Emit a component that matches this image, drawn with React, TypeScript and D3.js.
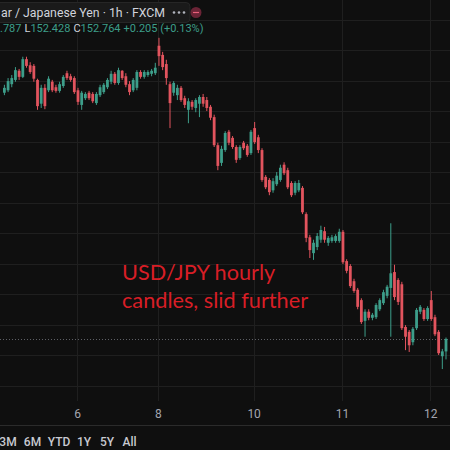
import React from 'react';
import * as d3 from 'd3';

const W = 450;
const H = 450;

// Hourly USD/JPY candles (FXCM)
const opens = [
  156.80, 156.84, 156.94, 157.01, 157.16, 157.06, 157.35, 157.25, 157.24, 157.01,
  156.62, 156.88, 156.84, 156.98, 156.89, 156.83, 156.91, 157.12, 157.07, 157.04,
  156.84, 156.60, 156.71, 156.80, 156.78, 156.63, 156.76, 156.81, 156.89, 156.98,
  157.11, 156.96, 157.16, 157.07, 156.94, 156.84, 156.88, 157.14, 157.06, 157.09,
  157.11, 157.12, 157.57, 157.42, 157.27, 156.94, 156.80, 156.76, 156.88, 156.71,
  156.52, 156.65, 156.55, 156.62, 156.73, 156.68, 156.57, 156.40, 155.94, 155.65,
  155.86, 156.16, 156.06, 155.91, 155.73, 155.98, 155.93, 155.81, 156.22, 156.07,
  155.86, 155.42, 155.37, 155.20, 155.30, 155.37, 155.62, 155.53, 155.32, 155.16,
  155.20, 155.24, 154.81, 154.43, 154.17, 154.27, 154.39, 154.53, 154.34, 154.37,
  154.37, 154.37, 154.52, 154.04, 153.96, 153.71, 153.57, 153.40, 153.06, 153.21,
  153.11, 153.12, 153.25, 153.35, 153.47, 153.60, 153.86, 153.73, 153.66, 152.96,
  152.88, 152.71, 152.94, 153.21, 153.24, 153.09, 153.40, 153.12, 152.88, 152.48,
  152.559,
];
const highs = [
  156.93, 157.04, 157.09, 157.22, 157.19, 157.39, 157.39, 157.30, 157.27, 157.03,
  156.93, 156.94, 157.07, 157.01, 156.93, 156.98, 157.09, 157.16, 157.11, 157.07,
  156.88, 156.83, 156.81, 156.83, 156.81, 156.81, 156.93, 156.96, 157.04, 157.16,
  157.14, 157.21, 157.17, 157.12, 156.99, 157.04, 157.17, 157.17, 157.17, 157.17,
  157.19, 157.29, 157.70, 157.47, 157.34, 156.98, 156.99, 156.93, 156.91, 156.75,
  156.71, 156.68, 156.71, 156.76, 156.78, 156.73, 156.60, 156.44, 155.98, 155.93,
  156.17, 156.19, 156.09, 155.94, 155.94, 156.01, 155.96, 156.19, 156.32, 156.11,
  155.89, 155.45, 155.40, 155.40, 155.50, 155.62, 155.66, 155.57, 155.35, 155.35,
  155.37, 155.27, 154.84, 154.47, 154.39, 154.50, 154.62, 154.60, 154.45, 154.47,
  154.48, 154.57, 154.55, 154.07, 153.99, 153.75, 153.60, 153.43, 153.25, 153.25,
  153.19, 153.35, 153.43, 153.57, 153.65, 154.66, 153.98, 153.76, 153.70, 152.99,
  152.91, 152.96, 153.27, 153.32, 153.27, 153.30, 153.55, 153.16, 152.91, 152.60,
  152.787,
];
const lows = [
  156.76, 156.81, 156.89, 156.98, 157.01, 157.04, 157.21, 157.11, 156.98, 156.52,
  156.55, 156.53, 156.81, 156.81, 156.80, 156.80, 156.88, 157.01, 156.98, 156.78,
  156.60, 156.52, 156.68, 156.68, 156.63, 156.60, 156.73, 156.78, 156.86, 156.94,
  156.93, 156.93, 157.01, 156.89, 156.76, 156.81, 156.84, 157.03, 157.03, 157.06,
  157.07, 157.09, 157.24, 157.17, 156.93, 156.22, 156.75, 156.68, 156.65, 156.55,
  156.30, 156.52, 156.48, 156.40, 156.57, 156.50, 156.35, 155.91, 155.53, 155.60,
  155.83, 155.94, 155.88, 155.65, 155.70, 155.86, 155.75, 155.78, 155.96, 155.81,
  155.34, 155.22, 155.12, 155.16, 155.27, 155.34, 155.45, 155.22, 155.09, 155.12,
  155.17, 154.81, 154.35, 154.09, 154.06, 154.22, 154.34, 154.34, 154.29, 154.34,
  154.34, 154.34, 153.99, 153.84, 153.60, 153.52, 153.25, 153.01, 152.80, 153.07,
  153.07, 153.09, 153.22, 153.32, 153.43, 152.80, 153.40, 153.32, 152.91, 152.58,
  152.55, 152.66, 152.91, 153.17, 153.06, 153.06, 153.06, 152.81, 152.50, 152.27,
  152.428,
];
const closes = [
  156.88, 156.99, 157.04, 157.17, 157.06, 157.35, 157.24, 157.14, 157.03, 156.58,
  156.88, 156.58, 157.03, 156.84, 156.83, 156.94, 157.06, 157.04, 157.01, 156.81,
  156.65, 156.80, 156.78, 156.71, 156.66, 156.78, 156.89, 156.93, 157.01, 157.11,
  156.96, 157.17, 157.04, 156.93, 156.81, 157.01, 157.14, 157.06, 157.14, 157.14,
  157.16, 157.21, 157.40, 157.22, 157.04, 156.63, 156.96, 156.88, 156.68, 156.60,
  156.66, 156.57, 156.68, 156.73, 156.62, 156.55, 156.39, 155.94, 155.60, 155.88,
  156.14, 155.98, 155.91, 155.70, 155.91, 155.89, 155.78, 156.16, 155.99, 155.86,
  155.37, 155.25, 155.17, 155.35, 155.44, 155.57, 155.48, 155.25, 155.12, 155.32,
  155.32, 154.84, 154.42, 154.22, 154.34, 154.45, 154.55, 154.39, 154.42, 154.43,
  154.45, 154.52, 154.02, 153.88, 153.63, 153.55, 153.29, 153.04, 153.21, 153.11,
  153.16, 153.32, 153.40, 153.53, 153.62, 153.84, 153.45, 153.37, 152.94, 152.80,
  152.66, 152.93, 153.24, 153.29, 153.09, 153.27, 153.09, 152.84, 152.53, 152.56,
  152.764,
];

const dayLabels = ['6', '8', '10', '11', '12'];
const dayIndex = [20, 42, 68, 92, 116];
const priceGridLevels = [158.0, 157.5, 157.0, 156.5, 156.0, 155.5, 155.0, 154.5, 154.0, 153.5, 153.0, 152.5, 152.0];
const lastPrice = 152.764;
const legendTitle = 'ar / Japanese Yen · 1h · FXCM';
const legendParts = [
  { key: '', val: '.787' },
  { key: 'L', val: '152.428' },
  { key: 'C', val: '152.764' },
  { key: '', val: '+0.205 (+0.13%)' },
];
const rangeButtons = ['3M', '6M', 'YTD', '1Y', '5Y', 'All'];
const annotationLines = ['USD/JPY hourly', 'candles, slid further'];

// layout
const PANE_BOTTOM = 401;
const rangeButtonX = [8, 32.5, 59, 84, 107, 129.5];

const BG = '#0f0f0f';
const GRID = '#1f1f1f';
const UP = '#3d9e8a';
const DOWN = '#e2545e';

export default function App() {
  const N = closes.length;
  const x = d3.scaleLinear().domain([0, N - 1]).range([4.4, 446]);
  const y = d3.scaleLinear().domain([158.32, 152.32]).range([0, 366]);
  const bodyW = 2.8;

  return (
    <div style={{ position: 'fixed', left: 0, top: 0, width: W, height: H, background: BG }}>
      <svg width={W} height={H} viewBox={`0 0 ${W} ${H}`} style={{ display: 'block' }}>
        <defs>
          <clipPath id="pane">
            <rect x={0} y={0} width={W} height={PANE_BOTTOM} />
          </clipPath>
        </defs>
        <rect x={0} y={0} width={W} height={H} fill={BG} />
        <g clipPath="url(#pane)">
          {priceGridLevels.map((p) => (
            <line key={p} x1={0} x2={W} y1={Math.round(y(p)) + 0.5} y2={Math.round(y(p)) + 0.5} stroke={GRID} strokeWidth={1} />
          ))}
          {dayIndex.map((d) => (
            <line key={d} x1={Math.round(x(d)) - 0.5} x2={Math.round(x(d)) - 0.5} y1={0} y2={PANE_BOTTOM} stroke={GRID} strokeWidth={1} />
          ))}
          <line x1={0} x2={W} y1={Math.round(y(lastPrice)) + 0.5} y2={Math.round(y(lastPrice)) + 0.5}
            stroke="#5e6066" strokeWidth={1} strokeDasharray="1 2" />
          {closes.map((c, i) => {
            const o = opens[i];
            const up = c >= o;
            const col = up ? UP : DOWN;
            const top = y(Math.max(o, c));
            const h = Math.max(1, Math.abs(y(o) - y(c)));
            const cx = x(i);
            return (
              <g key={i}>
                <rect x={cx - 0.5} y={y(highs[i])} width={1} height={y(lows[i]) - y(highs[i])} fill={col} />
                <rect x={cx - bodyW / 2} y={top} width={bodyW} height={h} fill={col} />
              </g>
            );
          })}
        </g>

        {/* legend */}
        <rect x={-6} y={2.5} width={196} height={20} rx={4} fill="#1a1a1a" stroke="#262626" />
        <text x={1} y={16.5} fontFamily="Roboto, sans-serif" fontSize={12.3} fill="#d1d4dc">{legendTitle}</text>
        <g fill="#b2b5be">
          <circle cx={174} cy={12.5} r={1.3} />
          <circle cx={179} cy={12.5} r={1.3} />
          <circle cx={184} cy={12.5} r={1.3} />
        </g>
        <circle cx={196} cy={12.5} r={5.5} fill="#6b2436" />
        <line x1={193} x2={199} y1={12.5} y2={12.5} stroke="#e8607a" strokeWidth={1.2} />
        <text x={0} y={31.5} fontFamily="Roboto, sans-serif" fontSize={11}>
          {legendParts.map((p, i) => (
            <React.Fragment key={i}>
              {p.key && <tspan fill="#d1d4dc" dx={i === 0 ? 0 : 3}>{p.key}</tspan>}
              <tspan fill={UP} dx={p.key ? 0 : (i === 0 ? 0 : 3)}>{p.val}</tspan>
            </React.Fragment>
          ))}
        </text>

        {/* annotation */}
        {annotationLines.map((t, i) => (
          <text key={t} x={122} y={280 + i * 28} fontFamily="Lato, 'Open Sans', sans-serif" fontSize={21.7} fill="#d81e26">{t}</text>
        ))}

        {/* time axis */}
        {dayIndex.map((d, i) => (
          <text key={d} x={x(d) - 0.5} y={418} textAnchor="middle" fontFamily="Roboto, sans-serif" fontSize={12} fill="#a3a6af">
            {dayLabels[i]}
          </text>
        ))}
        <line x1={0} x2={W} y1={425.5} y2={425.5} stroke="#2b2b2b" strokeWidth={1} />

        {/* range toolbar */}
        {rangeButtons.map((b, i) => (
          <text key={b} x={rangeButtonX[i]} y={445.5} textAnchor="middle" fontFamily="Roboto, sans-serif" fontSize={12} fontWeight={500} fill="#c8cad1">
            {b}
          </text>
        ))}
      </svg>
    </div>
  );
}
